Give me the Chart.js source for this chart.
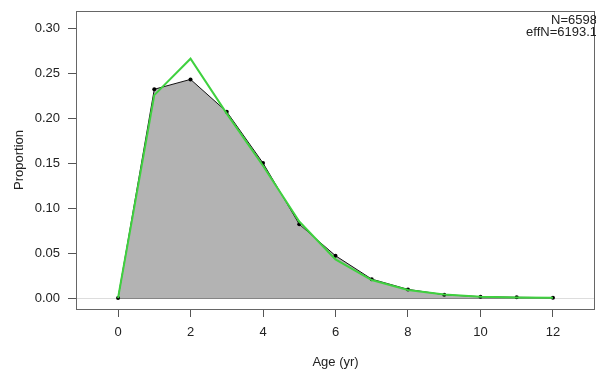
<!DOCTYPE html>
<html>
<head>
<meta charset="utf-8">
<script src="https://cdn.jsdelivr.net/npm/chart.js@4"></script>
<style>
  html, body { margin: 0; padding: 0; background: #fff; }
  #wrap { width: 596px; height: 375px; }
</style>
</head>
<body>
<div id="wrap"><canvas id="canvas" width="596" height="375"></canvas></div>
<script>
// ages and proportions
const ages = [0, 1, 2, 3, 4, 5, 6, 7, 8, 9, 10, 11, 12];
const observed = [0, 0.232, 0.243, 0.207, 0.150, 0.082, 0.047, 0.021, 0.0096, 0.0037, 0.0015, 0.0008, 0.0004];
const expected = [0, 0.2255, 0.266, 0.205, 0.147, 0.085, 0.043, 0.020, 0.009, 0.004, 0.0015, 0.0007, 0.0003];
const xTicks = [0, 2, 4, 6, 8, 10, 12];
const yTicks = [0, 0.05, 0.10, 0.15, 0.20, 0.25, 0.30];
const noteLines = ['N=6598', 'effN=6193.1'];

const font = 'Liberation Sans, Arial, sans-serif';

const boxPlugin = {
    id: 'box',
    afterDraw(chart) {
        const { ctx, chartArea: a } = chart;
        ctx.save();
        ctx.strokeStyle = '#666';
        ctx.lineWidth = 1;
        ctx.strokeRect(a.left + 0.5, a.top + 0.5, a.right - a.left - 1, a.bottom - a.top);
        ctx.fillStyle = '#222';
        ctx.font = '13px ' + font;
        ctx.textAlign = 'right';
        ctx.textBaseline = 'alphabetic';
        noteLines.forEach((t, i) => ctx.fillText(t, 597, 24 + i * 12));
        ctx.restore();
    }
};

const ctx = document.getElementById('canvas').getContext('2d');
const myChart = new Chart(ctx, {
    type: 'line',
    data: {
        datasets: [
            {
                data: ages.map((a, i) => ({ x: a, y: expected[i] })),
                borderColor: '#3fd13f',
                borderWidth: 2,
                pointRadius: 0,
                fill: false,
                order: 1
            },
            {
                data: ages.map((a, i) => ({ x: a, y: observed[i] })),
                borderColor: '#111',
                borderWidth: 1,
                backgroundColor: '#b3b3b3',
                pointRadius: 2,
                pointBackgroundColor: '#000',
                pointBorderWidth: 0,
                fill: 'origin',
                order: 2
            },
            {
                data: [{ x: ages[0], y: 0 }, { x: ages[ages.length - 1], y: 0 }],
                borderColor: '#333',
                borderWidth: 1,
                pointRadius: 0,
                fill: false,
                order: 3
            }
        ]
    },
    options: {
        responsive: false,
        animation: false,
        layout: { autoPadding: false, padding: { top: 11, right: 1, left: 0, bottom: 0 } },
        plugins: {
            legend: { display: false },
            tooltip: { enabled: false }
        },
        scales: {
            x: {
                type: 'linear',
                min: -1.16,
                max: 13.16,
                afterBuildTicks: s => { s.ticks = xTicks.map(v => ({ value: v })); },
                afterFit: s => { s.height = 66; s.paddingLeft = 0; s.paddingRight = 0; },
                ticks: {
                    color: '#222',
                    font: { family: font, size: 13 },
                    padding: 8,
                    maxRotation: 0
                },
                grid: {
                    drawOnChartArea: false,
                    tickColor: '#555',
                    tickLength: 8
                },
                border: { display: false },
                title: {
                    display: true,
                    text: 'Age (yr)',
                    color: '#222',
                    font: { family: font, size: 13 },
                    padding: { top: 0, bottom: 5 }
                }
            },
            y: {
                min: -0.0122,
                max: 0.319,
                afterBuildTicks: s => { s.ticks = yTicks.map(v => ({ value: v })); },
                afterFit: s => { s.width = 76; s.paddingTop = 0; s.paddingBottom = 0; },
                ticks: {
                    color: '#222',
                    font: { family: font, size: 13 },
                    padding: 8,
                    callback: v => v.toFixed(2)
                },
                grid: {
                    color: c => (c.tick && c.tick.value === 0 ? '#dddddd' : 'rgba(0,0,0,0)'),
                    tickColor: '#555',
                    tickLength: 8
                },
                border: { display: false },
                title: {
                    display: true,
                    text: 'Proportion',
                    color: '#222',
                    font: { family: font, size: 13 },
                    padding: { top: 12, bottom: 0 }
                }
            }
        }
    },
    plugins: [boxPlugin]
});
</script>
</body>
</html>
